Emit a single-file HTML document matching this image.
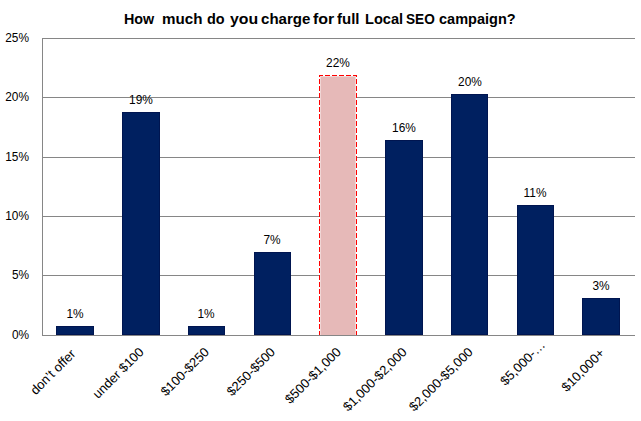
<!DOCTYPE html>
<html><head><meta charset="utf-8">
<style>
html,body{margin:0;padding:0;background:#fff;}
body{width:641px;height:421px;position:relative;overflow:hidden;font-family:"Liberation Sans",sans-serif;color:#000;}
svg{position:absolute;left:0;top:0;}
.t{position:absolute;white-space:nowrap;line-height:1;}
.tw{font-weight:bold;font-size:15.5px;top:11px;transform-origin:0 50%;}
.yl{font-size:12.5px;right:612px;margin-top:1px;text-align:right;transform-origin:100% 50%;transform:scaleX(0.95);}
.dl{font-size:12.5px;margin-top:3px;margin-left:-0.5px;width:60px;text-align:center;transform:scaleX(0.95);}
.xl{font-size:13px;transform-origin:100% 0;transform:rotate(-45deg);}
</style></head>
<body>
<svg width="641" height="421" shape-rendering="crispEdges">
  <g fill="#868686">
    <rect x="42" y="38" width="593" height="1"/>
    <rect x="42" y="97" width="593" height="1"/>
    <rect x="42" y="157" width="593" height="1"/>
    <rect x="42" y="216" width="593" height="1"/>
    <rect x="42" y="275" width="593" height="1"/>
    <rect x="42" y="335" width="593" height="1"/>
    <rect x="42" y="38" width="1" height="298"/>
  </g>
  <g fill="#002060" stroke="#001550" stroke-width="1">
    <rect x="56.5" y="326.5" width="37" height="8"/>
    <rect x="122.5" y="112.5" width="37" height="222"/>
    <rect x="188.5" y="326.5" width="36" height="8"/>
    <rect x="254.5" y="252.5" width="36" height="82"/>
    <rect x="385.5" y="140.5" width="37" height="194"/>
    <rect x="451.5" y="94.5" width="36" height="240"/>
    <rect x="517.5" y="205.5" width="36" height="129"/>
    <rect x="582.5" y="298.5" width="37" height="36"/>
  </g>
  <rect x="320" y="76" width="36" height="259" fill="#E6B9B8"/>
  <rect x="320" y="76" width="1" height="259" fill="#F0D6D5"/>
  <rect x="355" y="76" width="1" height="259" fill="#F0D6D5"/>
  <rect x="320" y="76" width="36" height="1" fill="#F0D6D5"/>
  <path fill="#FF0000" d="M319 75h1v2h-1z M356 75h1v2h-1z M319 79h1v5h-1z M356 79h1v5h-1z M319 86h1v5h-1z M356 86h1v5h-1z M319 93h1v5h-1z M356 93h1v5h-1z M319 100h1v5h-1z M356 100h1v5h-1z M319 107h1v5h-1z M356 107h1v5h-1z M319 114h1v5h-1z M356 114h1v5h-1z M319 121h1v5h-1z M356 121h1v5h-1z M319 128h1v5h-1z M356 128h1v5h-1z M319 135h1v5h-1z M356 135h1v5h-1z M319 142h1v5h-1z M356 142h1v5h-1z M319 149h1v5h-1z M356 149h1v5h-1z M319 156h1v5h-1z M356 156h1v5h-1z M319 163h1v5h-1z M356 163h1v5h-1z M319 170h1v5h-1z M356 170h1v5h-1z M319 177h1v5h-1z M356 177h1v5h-1z M319 184h1v5h-1z M356 184h1v5h-1z M319 191h1v5h-1z M356 191h1v5h-1z M319 198h1v5h-1z M356 198h1v5h-1z M319 205h1v5h-1z M356 205h1v5h-1z M319 212h1v5h-1z M356 212h1v5h-1z M319 219h1v5h-1z M356 219h1v5h-1z M319 226h1v5h-1z M356 226h1v5h-1z M319 233h1v5h-1z M356 233h1v5h-1z M319 240h1v5h-1z M356 240h1v5h-1z M319 247h1v5h-1z M356 247h1v5h-1z M319 254h1v5h-1z M356 254h1v5h-1z M319 261h1v5h-1z M356 261h1v5h-1z M319 268h1v5h-1z M356 268h1v5h-1z M319 275h1v5h-1z M356 275h1v5h-1z M319 282h1v5h-1z M356 282h1v5h-1z M319 289h1v5h-1z M356 289h1v5h-1z M319 296h1v5h-1z M356 296h1v5h-1z M319 303h1v5h-1z M356 303h1v5h-1z M319 310h1v5h-1z M356 310h1v5h-1z M319 317h1v5h-1z M356 317h1v5h-1z M319 324h1v5h-1z M356 324h1v5h-1z M319 331h1v4h-1z M356 331h1v4h-1z M319 75h4v1h-4z M325 75h5v1h-5z M332 75h5v1h-5z M339 75h5v1h-5z M346 75h5v1h-5z M353 75h4v1h-4z"/>
</svg>
<div class="t tw" style="left:123.7px;transform:scaleX(0.924)">How</div>
<div class="t tw" style="left:161.7px;transform:scaleX(0.979)">much</div>
<div class="t tw" style="left:207.1px;transform:scaleX(0.932)">do</div>
<div class="t tw" style="left:229.7px;transform:scaleX(1.021)">you</div>
<div class="t tw" style="left:260.9px;transform:scaleX(0.972)">charge</div>
<div class="t tw" style="left:313.4px;transform:scaleX(1.030)">for</div>
<div class="t tw" style="left:337.2px;transform:scaleX(0.967)">full</div>
<div class="t tw" style="left:364.7px;transform:scaleX(0.941)">Local</div>
<div class="t tw" style="left:405.9px;transform:scaleX(0.879)">SEO</div>
<div class="t tw" style="left:439.2px;transform:scaleX(0.937)">campaign?</div>

<div class="t yl" style="top:31px">25%</div>
<div class="t yl" style="top:90px">20%</div>
<div class="t yl" style="top:150px">15%</div>
<div class="t yl" style="top:209px">10%</div>
<div class="t yl" style="top:268px">5%</div>
<div class="t yl" style="top:328px">0%</div>

<div class="t dl" style="left:45px;top:305px">1%</div>
<div class="t dl" style="left:111px;top:91px">19%</div>
<div class="t dl" style="left:176px;top:305px">1%</div>
<div class="t dl" style="left:242px;top:231px">7%</div>
<div class="t dl" style="left:308px;top:54px">22%</div>
<div class="t dl" style="left:374px;top:119px">16%</div>
<div class="t dl" style="left:440px;top:73px">20%</div>
<div class="t dl" style="left:505px;top:184px">11%</div>
<div class="t dl" style="left:571px;top:277px">3%</div>

<div class="t xl" style="right:572.50px;top:346.5px">don’t offer</div>
<div class="t xl" style="right:504.25px;top:345px">under $100</div>
<div class="t xl" style="right:438.50px;top:345px">$100-$250</div>
<div class="t xl" style="right:372.75px;top:345px">$250-$500</div>
<div class="t xl" style="right:307.00px;top:345px">$500-$1,000</div>
<div class="t xl" style="right:241.25px;top:345px">$1,000-$2,000</div>
<div class="t xl" style="right:175.50px;top:345px">$2,000-$5,000</div>
<div class="t xl" style="right:102.75px;top:338px">$5,000-…</div>
<div class="t xl" style="right:43.50px;top:346px">$10,000+</div>
</body></html>
